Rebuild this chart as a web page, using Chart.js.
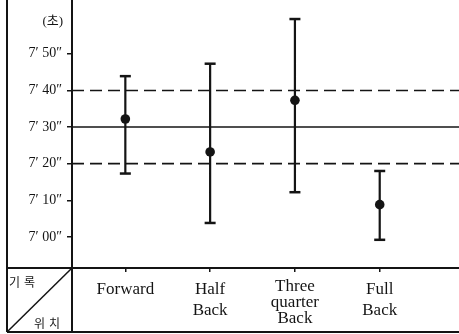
<!DOCTYPE html>
<html>
<head>
<meta charset="utf-8">
<script src="https://cdn.jsdelivr.net/npm/chart.js@4/dist/chart.umd.min.js"></script>
<style>
  html, body { margin: 0; padding: 0; background: #fff; }
  canvas { display: block; }
</style>
</head>
<body>
<canvas id="chart" width="459" height="334"></canvas>
<script>
// Playing positions (multi-line labels)
const positions = [["Forward"], ["Half", "Back"], ["Three", "quarter", "Back"], ["Full", "Back"]];
// Times in seconds (7'00" = 420 s)
const meanTimes  = [452.2, 443.2, 457.3, 428.8];
const upperTimes = [463.9, 467.3, 479.5, 438.0];
const lowerTimes = [437.3, 423.8, 432.2, 419.2];
// Overall mean (7'30") and the ±10" band
const overallMean = 450;
const bandUpper = 460;
const bandLower = 440;
const yTickValues = [420, 430, 440, 450, 460, 470];

const X_MIN = -0.629, X_MAX = 3.935;
const INK = '#141414';
const SERIF = "'Liberation Serif', 'DejaVu Serif', serif";

function fmtTime(v) {
  const s = v - 420;
  return "7\u2032 " + String(s).padStart(2, '0') + "\u2033";
}

// Vertical range bars: low/high pairs separated by gaps
const rangePoints = [];
positions.forEach((_, i) => {
  rangePoints.push({ x: i, y: lowerTimes[i] });
  rangePoints.push({ x: i, y: upperTimes[i] });
  rangePoints.push({ x: i, y: null });
});

const meanPoints = meanTimes.map((v, i) => ({ x: i, y: v }));
const hLine = (v) => [{ x: X_MIN, y: v }, { x: X_MAX, y: v }];

// Let the plot run edge to edge (no extra room reserved for end labels)
function noEdgePadding(scale) {
  scale.paddingTop = 0; scale.paddingBottom = 0;
  scale.paddingLeft = 0; scale.paddingRight = 0;
}

// Table frame, corner cell and unit label
const tableFrame = {
  id: 'tableFrame',
  afterDraw(chart) {
    const ctx = chart.ctx;
    const { left, bottom } = chart.chartArea;
    const W = chart.width;
    const outerX = 7, baseY = 332;
    ctx.save();
    ctx.strokeStyle = INK;
    ctx.lineWidth = 2;
    ctx.beginPath();
    ctx.moveTo(outerX, 0); ctx.lineTo(outerX, baseY);        // outer left rule
    ctx.moveTo(outerX, bottom); ctx.lineTo(left, bottom);     // header rule in corner
    ctx.moveTo(outerX, baseY); ctx.lineTo(W, baseY);          // bottom rule
    ctx.moveTo(left, bottom); ctx.lineTo(left, baseY);        // divider below axis
    ctx.stroke();
    ctx.lineWidth = 1.5;
    ctx.beginPath();
    ctx.moveTo(outerX, baseY); ctx.lineTo(left, bottom);      // diagonal in corner cell
    ctx.stroke();

    ctx.fillStyle = INK;
    ctx.textBaseline = 'middle';
    ctx.font = "12px 'Noto Sans CJK KR', sans-serif";
    if ('letterSpacing' in ctx) ctx.letterSpacing = '4px';
    ctx.textAlign = 'left';
    ctx.fillText('기록', 9, 282);
    ctx.fillText('위치', 34, 323);
    if ('letterSpacing' in ctx) ctx.letterSpacing = '0px';
    ctx.font = "13px 'Liberation Serif', 'Noto Sans CJK KR', serif";
    ctx.textAlign = 'right';
    ctx.fillText('(초)', 63, 22);
    ctx.restore();
  }
};

new Chart(document.getElementById('chart'), {
  type: 'line',
  data: {
    datasets: [
      {
        label: 'band-upper',
        data: hLine(bandUpper),
        borderColor: INK, borderWidth: 1.6, borderDash: [12, 6],
        pointRadius: 0, order: 5
      },
      {
        label: 'mean',
        data: hLine(overallMean),
        borderColor: INK, borderWidth: 1.4,
        pointRadius: 0, order: 5
      },
      {
        label: 'band-lower',
        data: hLine(bandLower),
        borderColor: INK, borderWidth: 1.6, borderDash: [12, 6],
        pointRadius: 0, order: 5
      },
      {
        label: 'range',
        data: rangePoints,
        borderColor: INK, borderWidth: 2.2,
        spanGaps: false,
        pointStyle: 'line', pointRadius: 5.5,
        pointBorderWidth: 2.5, pointBorderColor: INK,
        order: 2
      },
      {
        label: 'position mean',
        data: meanPoints,
        showLine: false,
        pointStyle: 'circle', pointRadius: 4.8,
        pointBackgroundColor: INK, pointBorderColor: INK, pointBorderWidth: 0,
        order: 1
      }
    ]
  },
  options: {
    responsive: false,
    animation: false,
    layout: { padding: 0, autoPadding: false },
    plugins: { legend: { display: false }, tooltip: { enabled: false } },
    scales: {
      x: {
        type: 'linear',
        min: X_MIN, max: X_MAX,
        afterBuildTicks(scale) { scale.ticks = positions.map((_, i) => ({ value: i })); },
        afterFit(scale) { scale.height = 66; noEdgePadding(scale); },
        ticks: {
          autoSkip: false, maxRotation: 0, minRotation: 0,
          color: INK, padding: 7,
          font: (ctx) => ({
            family: SERIF, size: 17,
            lineHeight: (positions[ctx.index] && positions[ctx.index].length > 2) ? 16 / 17 : 21 / 17
          }),
          callback: (v) => positions[v]
        },
        grid: { display: true, drawOnChartArea: false, drawTicks: true, tickLength: 4, color: INK, lineWidth: 1.5 },
        border: { display: true, color: INK, width: 2 }
      },
      y: {
        type: 'linear',
        position: 'left',
        min: 411.5, max: 484.7,
        afterBuildTicks(scale) { scale.ticks = yTickValues.map(v => ({ value: v })); },
        afterFit(scale) { scale.width = 72; noEdgePadding(scale); },
        ticks: {
          color: INK, padding: 5,
          font: { family: SERIF, size: 14 },
          callback: (v) => fmtTime(v)
        },
        grid: { display: true, drawOnChartArea: false, drawTicks: true, tickLength: 5, color: INK, lineWidth: 1.5 },
        border: { display: true, color: INK, width: 2 }
      }
    }
  },
  plugins: [tableFrame]
});
</script>
</body>
</html>
